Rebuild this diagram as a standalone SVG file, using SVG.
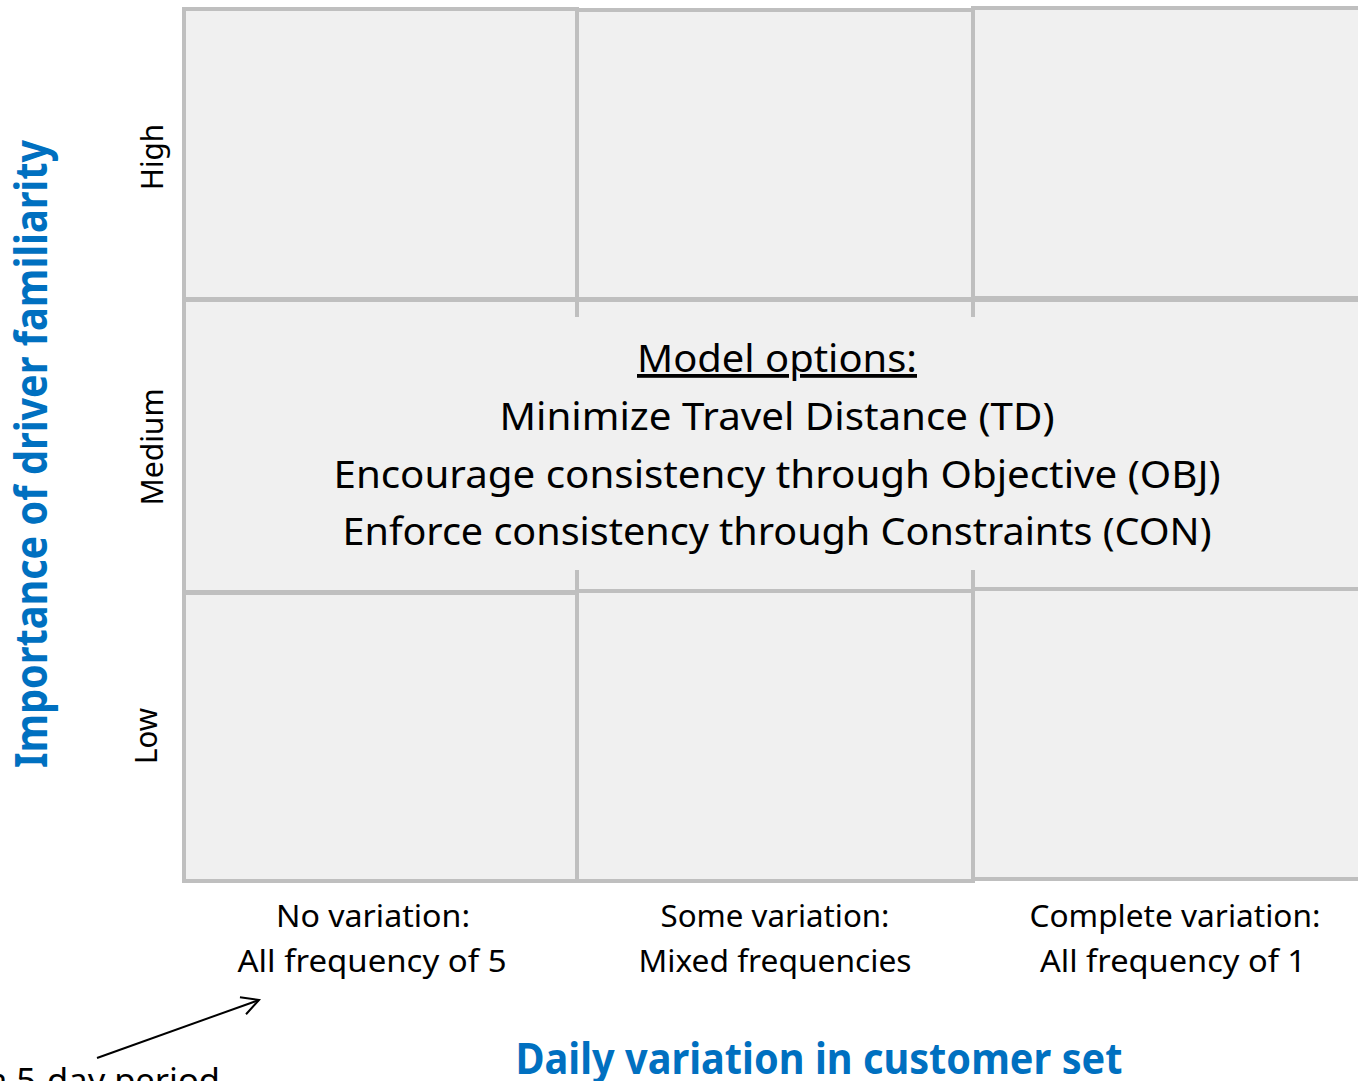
<svg xmlns="http://www.w3.org/2000/svg" width="1358" height="1081" viewBox="0 0 1358 1081">
<style>
.cell{fill:#f0f0f0;stroke:#bfbfbf;stroke-width:4}
.stub{stroke:#bfbfbf;stroke-width:4}
.t{font-family:"Noto Sans","Liberation Sans",sans-serif;fill:#000}
.axis{font-family:"Noto Sans","Liberation Sans",sans-serif;fill:#0070c0;font-weight:bold}
</style>
<defs>
<marker id="open" viewBox="0 0 20 20" refX="18" refY="10" markerWidth="20" markerHeight="20" markerUnits="userSpaceOnUse" orient="auto">
<path d="M1,1 L18,10 L1,19" fill="none" stroke="#000" stroke-width="2"/>
</marker>
</defs>
<rect width="1358" height="1081" fill="#fff"/>
<g id="cell-top-left"><rect class="cell" x="184" y="9" width="393" height="290"/></g>
<g id="cell-top-mid"><rect class="cell" x="577" y="10" width="396" height="289"/></g>
<g id="cell-top-right"><rect class="cell" x="973" y="8" width="400" height="290"/></g>
<g id="cell-middle">
<rect class="cell" x="184" y="300" width="1190" height="292"/>
<text class="t" x="777" y="372" font-size="38" text-anchor="middle" text-decoration="underline" textLength="280" lengthAdjust="spacingAndGlyphs">Model options:</text>
<text class="t" x="777" y="430" font-size="38" text-anchor="middle" textLength="555" lengthAdjust="spacingAndGlyphs">Minimize Travel Distance (TD)</text>
<text class="t" x="777" y="488" font-size="38" text-anchor="middle" textLength="887" lengthAdjust="spacingAndGlyphs">Encourage consistency through Objective (OBJ)</text>
<text class="t" x="777" y="545" font-size="38" text-anchor="middle" textLength="869" lengthAdjust="spacingAndGlyphs">Enforce consistency through Constraints (CON)</text>
</g>
<g id="cell-bottom-left"><rect class="cell" x="184" y="593" width="393" height="288"/></g>
<g id="cell-bottom-mid"><rect class="cell" x="577" y="591" width="396" height="290"/></g>
<g id="cell-bottom-right"><rect class="cell" x="973" y="589" width="400" height="290"/></g>
<g id="connectors">
<line class="stub" x1="577" y1="299" x2="577" y2="317"/>
<line class="stub" x1="973" y1="299" x2="973" y2="317"/>
<line class="stub" x1="577" y1="570" x2="577" y2="592"/>
<line class="stub" x1="973" y1="570" x2="973" y2="590"/>
<line x1="97" y1="1058" x2="259" y2="1000" stroke="#000" stroke-width="2" marker-end="url(#open)"/>
</g>
<g id="row-labels">
<text class="t" transform="translate(163,157) rotate(-90)" font-size="31" text-anchor="middle" textLength="66" lengthAdjust="spacingAndGlyphs">High</text>
<text class="t" transform="translate(163,447) rotate(-90)" font-size="31" text-anchor="middle" textLength="117" lengthAdjust="spacingAndGlyphs">Medium</text>
<text class="t" transform="translate(157,736) rotate(-90)" font-size="31" text-anchor="middle" textLength="56" lengthAdjust="spacingAndGlyphs">Low</text>
</g>
<g id="y-axis-title">
<text class="axis" transform="translate(47,454) rotate(-90)" font-size="44" text-anchor="middle" textLength="628" lengthAdjust="spacingAndGlyphs">Importance of driver familiarity</text>
</g>
<g id="col-labels">
<text class="t" x="373" y="927" font-size="31" text-anchor="middle" textLength="194" lengthAdjust="spacingAndGlyphs">No variation:</text>
<text class="t" x="372" y="972" font-size="31" text-anchor="middle" textLength="269" lengthAdjust="spacingAndGlyphs">All frequency of 5</text>
<text class="t" x="775" y="927" font-size="31" text-anchor="middle" textLength="229" lengthAdjust="spacingAndGlyphs">Some variation:</text>
<text class="t" x="775" y="972" font-size="31" text-anchor="middle" textLength="273" lengthAdjust="spacingAndGlyphs">Mixed frequencies</text>
<text class="t" x="1175" y="927" font-size="31" text-anchor="middle" textLength="291" lengthAdjust="spacingAndGlyphs">Complete variation:</text>
<text class="t" x="1173" y="972" font-size="31" text-anchor="middle" textLength="266" lengthAdjust="spacingAndGlyphs">All frequency of 1</text>
</g>
<g id="x-axis-title">
<text class="axis" x="819" y="1074" font-size="43" text-anchor="middle" textLength="607" lengthAdjust="spacingAndGlyphs">Daily variation in customer set</text>
</g>
<g id="note">
<text class="t" x="220" y="1092" font-size="32" text-anchor="end" textLength="232" lengthAdjust="spacingAndGlyphs">a 5-day period</text>
</g>
</svg>
